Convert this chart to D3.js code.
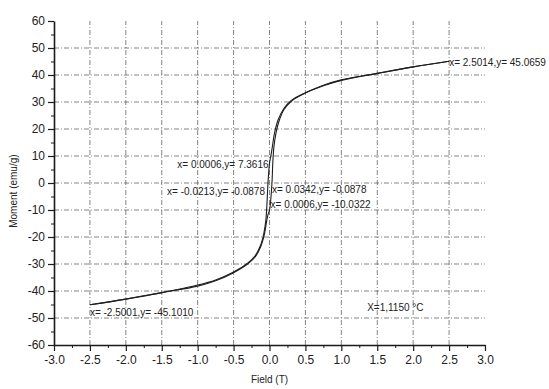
<!DOCTYPE html>
<html>
<head>
<meta charset="utf-8">
<script src="https://cdn.jsdelivr.net/npm/d3@7"></script>
<style>
  html, body { margin: 0; padding: 0; background: #fff; }
  svg { display: block; font-family: "Liberation Sans", Arial, sans-serif; }
  .axis path, .axis line { stroke: #1a1a1a; }
  .axis text { fill: #222; font-size: 12px; }
  .grid line { stroke: #666; stroke-width: 0.8; stroke-dasharray: 5,2,1,2; }
</style>
</head>
<body>
<svg id="chart" width="549" height="389"></svg>
<script>
'use strict';

// ── Data (field in T, moment in emu/g) ─────────────────────────────────────
// descending branch, +2.5 T → -2.5 T
const descField  = [2.5014, 2.0, 1.5, 1.0, 0.75, 0.5, 0.3, 0.2, 0.12, 0.07, 0.04, 0.02, 0.0006,
                    -0.0213, -0.035, -0.05, -0.08, -0.12, -0.2, -0.3, -0.5, -0.75, -1.0, -1.5, -2.0, -2.5001];
const descMoment = [45.0659, 43.0, 40.6, 38.2, 36.2, 33.4, 30.5, 27.6, 23.4, 18.5, 13.5, 10.2, 7.3616,
                    -0.0878, -7.5, -13.5, -18.8, -22.8, -27.0, -29.6, -33.0, -35.9, -37.8, -40.6, -43.0, -45.1010];
// ascending branch, -2.5 T → +2.5 T
const ascField   = [-2.5001, -2.0, -1.5, -1.0, -0.75, -0.5, -0.3, -0.2, -0.12, -0.07, -0.04, -0.02, 0.0006,
                    0.0342, 0.045, 0.06, 0.09, 0.13, 0.2, 0.3, 0.5, 0.75, 1.0, 1.5, 2.0, 2.5014];
const ascMoment  = [-45.1010, -43.0, -40.6, -38.2, -36.2, -33.2, -29.9, -27.4, -23.4, -18.8, -14.2, -11.6, -10.0322,
                    -0.0878, 7.0, 13.0, 18.5, 22.7, 27.1, 30.2, 33.3, 36.0, 38.0, 40.6, 43.0, 45.0659];

// data-point labels
const annotText   = ['x= 2.5014,y= 45.0659', 'x= 0.0006,y= 7.3616', 'x= -0.0213,y= -0.0878',
                     'x= 0.0342,y= -0.0878', 'x= 0.0006,y= -10.0322', 'x= -2.5001,y= -45.1010'];
const annotField  = [2.5014, 0.0006, -0.0213, 0.0342, 0.0006, -2.5001];
const annotMoment = [45.0659, 7.3616, -0.0878, -0.0878, -10.0322, -45.1010];

const xTicks = [-3.0, -2.5, -2.0, -1.5, -1.0, -0.5, 0.0, 0.5, 1.0, 1.5, 2.0, 2.5, 3.0];
const yTicks = [-60, -50, -40, -30, -20, -10, 0, 10, 20, 30, 40, 50, 60];

// ── Scales ────────────────────────────────────────────────────────────────
const x = d3.scaleLinear().domain([-3, 3]).range([54, 485]);
const y = d3.scaleLinear().domain([-60, 60]).range([345, 21]);

const svg = d3.select('#chart');

// grid (interior ticks only)
const grid = svg.append('g').attr('class', 'grid');
grid.selectAll('.gx')
  .data(xTicks.slice(1, -1))
  .join('line')
  .attr('x1', d => x(d)).attr('x2', d => x(d))
  .attr('y1', y(-60)).attr('y2', y(60));
grid.selectAll('.gy')
  .data(yTicks.slice(1, -1))
  .join('line')
  .attr('x1', x(-3)).attr('x2', x(3))
  .attr('y1', d => y(d)).attr('y2', d => y(d));

// minor ticks
const xMinor = d3.range(-2.75, 3, 0.5);
const yMinor = d3.range(-55, 60, 10);

svg.append('g').attr('class', 'axis')
  .attr('transform', `translate(0,${y(-60)})`)
  .call(d3.axisBottom(x).tickValues(xMinor).tickSize(3).tickFormat(''))
  .call(g => g.select('.domain').remove());
svg.append('g').attr('class', 'axis')
  .attr('transform', `translate(${x(-3)},0)`)
  .call(d3.axisLeft(y).tickValues(yMinor).tickSize(3).tickFormat(''))
  .call(g => g.select('.domain').remove());

// major axes
svg.append('g').attr('class', 'axis')
  .attr('transform', `translate(0,${y(-60)})`)
  .call(d3.axisBottom(x).tickValues(xTicks).tickSize(6).tickSizeOuter(0).tickPadding(4)
    .tickFormat(d => d.toFixed(1)))
  .call(g => g.select('.domain').attr('stroke-width', 1.6))
  .call(g => g.selectAll('.tick line').attr('stroke-width', 1.2));

svg.append('g').attr('class', 'axis')
  .attr('transform', `translate(${x(-3)},0)`)
  .call(d3.axisLeft(y).tickValues(yTicks).tickSize(6).tickSizeOuter(0).tickPadding(3)
    .tickFormat(d => String(d)))
  .call(g => g.select('.domain').attr('stroke-width', 1.6))
  .call(g => g.selectAll('.tick line').attr('stroke-width', 1.2));

// ── Curve ─────────────────────────────────────────────────────────────────
const line = d3.line()
  .x(p => x(p[0]))
  .y(p => y(p[1]))
  .curve(d3.curveCatmullRom.alpha(0.5));

const branches = [
  descField.map((f, i) => [f, descMoment[i]]),
  ascField.map((f, i) => [f, ascMoment[i]]),
];

svg.append('g')
  .selectAll('path')
  .data(branches)
  .join('path')
  .attr('d', line)
  .attr('fill', 'none')
  .attr('stroke', '#1e1e1e')
  .attr('stroke-width', 1.1);

// ── Point labels ──────────────────────────────────────────────────────────
const labelLayout = [
  { anchor: 'start', dx: 0,  dy: 1 },
  { anchor: 'end',   dx: -1, dy: 1 },
  { anchor: 'end',   dx: -3, dy: 8 },
  { anchor: 'start', dx: 0,  dy: 6 },
  { anchor: 'start', dx: 1,  dy: -6 },
  { anchor: 'start', dx: 0,  dy: 8 },
];

svg.append('g')
  .selectAll('text')
  .data(annotText)
  .join('text')
  .attr('x', (d, i) => x(annotField[i]) + labelLayout[i].dx)
  .attr('y', (d, i) => y(annotMoment[i]) + labelLayout[i].dy)
  .attr('dy', '0.35em')
  .attr('text-anchor', (d, i) => labelLayout[i].anchor)
  .attr('font-size', '10px')
  .attr('fill', '#222')
  .text(d => d);

svg.append('text')
  .attr('x', x(1.36))
  .attr('y', y(-46))
  .attr('dy', '0.35em')
  .attr('font-size', '10px')
  .attr('fill', '#222')
  .text('X=1,1150 °C');

// ── Axis titles ───────────────────────────────────────────────────────────
svg.append('text')
  .attr('transform', `translate(13,${y(-3)}) rotate(-90)`)
  .attr('text-anchor', 'middle')
  .attr('dy', '0.35em')
  .attr('font-size', '10px')
  .attr('fill', '#222')
  .text('Moment (emu/g)');

svg.append('text')
  .attr('x', x(0))
  .attr('y', 383)
  .attr('text-anchor', 'middle')
  .attr('font-size', '10px')
  .attr('fill', '#222')
  .text('Field (T)');
</script>
</body>
</html>
